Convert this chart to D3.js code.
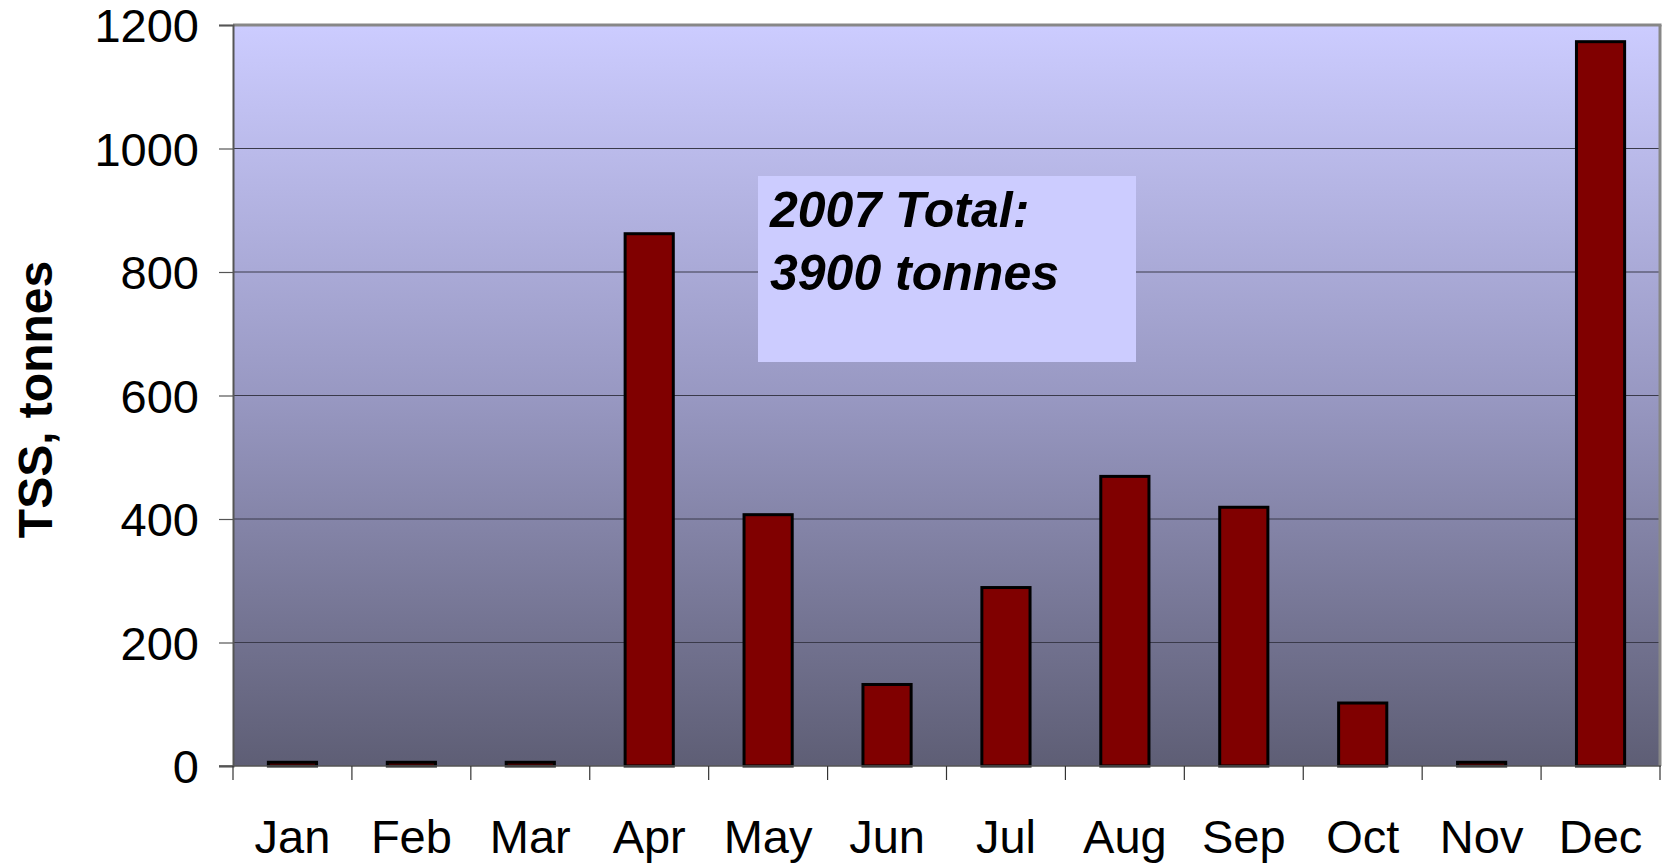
<!DOCTYPE html>
<html>
<head>
<meta charset="utf-8">
<script src="https://cdn.jsdelivr.net/npm/d3@7"></script>
<style>
  html, body { margin: 0; padding: 0; background: #ffffff; }
  svg { display: block; font-family: "Liberation Sans", Arial, sans-serif; }
</style>
</head>
<body>
<svg id="chart" width="1675" height="867"></svg>
<script>
const months = ["Jan","Feb","Mar","Apr","May","Jun","Jul","Aug","Sep","Oct","Nov","Dec"];
const tssTonnes = [6, 6, 6, 862, 407, 132, 289, 469, 419, 102, 6, 1173];
const yTicks = [0, 200, 400, 600, 800, 1000, 1200];
const yTitle = "TSS, tonnes";
const noteLines = ["2007 Total:", "3900 tonnes"];

(function () {
const svg = d3.select("#chart");
const pL = 233, pR = 1660, pT = 25, pB = 766;

const y = d3.scaleLinear().domain([0, 1200]).range([pB, pT]);
const slot = d3.scaleBand().domain(months).range([pL, pR]).padding(0);
const xBar = d3.scaleBand().domain(months).range([pL, pR]).paddingInner(0.595).paddingOuter(0.2975);

const defs = svg.append("defs");
const grad = defs.append("linearGradient").attr("id", "bg").attr("x1", 0).attr("y1", 0).attr("x2", 0).attr("y2", 1);
grad.append("stop").attr("offset", "0%").attr("stop-color", "#ccccff");
grad.append("stop").attr("offset", "50%").attr("stop-color", "#9898c2");
grad.append("stop").attr("offset", "100%").attr("stop-color", "#5e5e75");

svg.append("rect").attr("x", pL).attr("y", pT).attr("width", pR - pL).attr("height", pB - pT)
  .attr("fill", "url(#bg)");

// gridlines
svg.append("g").selectAll("line").data(yTicks.filter(d => d > 0 && d < 1200)).join("line")
  .attr("x1", pL).attr("x2", pR).attr("y1", d => y(d)).attr("y2", d => y(d))
  .attr("stroke", "#3a3a4a").attr("stroke-width", 1);

// text box
svg.append("rect").attr("x", 758).attr("y", 176).attr("width", 378).attr("height", 186).attr("fill", "#ccccff");
svg.append("g").selectAll("text").data(noteLines).join("text")
  .attr("x", 770).attr("y", (d, i) => 227 + i * 63)
  .attr("font-size", 50).attr("font-weight", "bold").attr("font-style", "italic").attr("fill", "#000")
  .text(d => d);

// bars
svg.append("g").selectAll("rect").data(months.map((m, i) => ({m, v: tssTonnes[i]}))).join("rect")
  .attr("x", d => xBar(d.m)).attr("width", xBar.bandwidth())
  .attr("y", d => y(d.v)).attr("height", d => y(0) - y(d.v))
  .attr("fill", "#800000").attr("stroke", "#000").attr("stroke-width", 3);

// border
svg.append("line").attr("x1", pL).attr("x2", pR + 1.5).attr("y1", pT).attr("y2", pT).attr("stroke", "#878787").attr("stroke-width", 3);
svg.append("line").attr("x1", pR).attr("x2", pR).attr("y1", pT).attr("y2", pB).attr("stroke", "#878787").attr("stroke-width", 3);

// y axis
const yAxis = d3.axisLeft(y).tickValues(yTicks).tickSize(14).tickPadding(20).tickFormat(d3.format("d"));
const gy = svg.append("g").attr("transform", `translate(${pL},0)`).call(yAxis);
gy.select(".domain").attr("stroke", "#555").attr("stroke-width", 2);
gy.selectAll(".tick line").attr("stroke", "#555").attr("stroke-width", 1.2);
gy.selectAll(".tick text").attr("font-size", 47).attr("fill", "#000").attr("font-family", "Liberation Sans, Arial, sans-serif").attr("dy", "0.36em");

// x axis
svg.append("line").attr("x1", pL - 14).attr("x2", pR + 1).attr("y1", pB).attr("y2", pB).attr("stroke", "#555").attr("stroke-width", 1.5);
const bounds = months.map(m => slot(m)).concat([pR]);
svg.append("g").selectAll("line").data(bounds).join("line")
  .attr("x1", d => d).attr("x2", d => d).attr("y1", pB).attr("y2", pB + 14)
  .attr("stroke", "#333").attr("stroke-width", 1.2);
svg.append("g").selectAll("text").data(months).join("text")
  .attr("x", d => slot(d) + slot.bandwidth() / 2).attr("y", 853)
  .attr("text-anchor", "middle").attr("font-size", 47).attr("fill", "#000")
  .text(d => d);

// y title
svg.append("text").attr("transform", `translate(52,${(pT + pB) / 2 + 4}) rotate(-90)`)
  .attr("text-anchor", "middle").attr("font-size", 48).attr("font-weight", "bold").attr("fill", "#000")
  .text(yTitle);
})();
</script>
</body>
</html>
